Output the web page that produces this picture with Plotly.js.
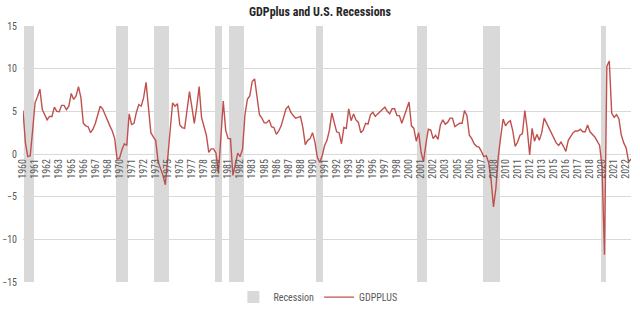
<!DOCTYPE html>
<html><head><meta charset="utf-8">
<script src="https://cdn.plot.ly/plotly-3.0.1.min.js"></script>
<style>html,body{margin:0;padding:0;background:#fff}#chart{width:640px;height:321px}</style>
</head><body><div id="chart"></div>
<script>
// GDPplus, quarterly, 1960Q1 .. 2023Q1 (annualized %)
const gdpplus = [
  5.1, 1.3, -0.3, -0.2, 2.8, 6.0, 6.7, 7.6, 5.2, 4.6,
  4.0, 4.4, 4.4, 5.5, 5.0, 4.95, 5.7, 5.7, 5.2, 5.6,
  7.1, 6.4, 6.8, 7.9, 6.6, 3.6, 3.3, 3.2, 2.5, 2.9,
  3.6, 4.6, 5.6, 5.3, 4.6, 3.8, 3.3, 2.7, 1.8, -0.6,
  -0.5, 0.5, 1.2, 1.0, 4.7, 3.45, 3.6, 4.9, 5.8, 5.6,
  6.6, 8.4, 5.5, 2.5, 2.0, 1.6, -0.9, -1.7, -2.5, -3.6,
  -0.5, 3.2, 6.0, 5.6, 5.9, 3.4, 3.1, 3.0, 5.1, 7.3,
  5.5, 3.6, 5.5, 7.9, 4.3, 3.3, 2.2, 0.2, 0.6, 0.6,
  0.1, -2.3, 1.4, 6.2, 2.8, 1.8, 1.8, -2.5, -1.2, 0.1,
  -0.3, 0.6, 4.6, 6.4, 6.8, 8.5, 8.8, 6.6, 4.6, 4.2,
  3.65, 3.65, 4.0, 3.2, 3.1, 2.3, 2.7, 3.3, 4.2, 5.3,
  5.6, 4.9, 4.5, 4.2, 4.3, 4.4, 3.1, 1.1, 1.6, 1.8,
  2.5, 1.4, -0.4, -1.0, -0.2, 1.0, 1.6, 2.8, 4.8, 3.5,
  2.6, 2.5, 1.2, 3.1, 3.0, 5.3, 3.9, 4.7, 4.0, 3.7,
  2.5, 2.8, 3.6, 3.5, 4.6, 4.9, 4.4, 4.7, 5.0, 5.2,
  5.5, 5.0, 4.7, 5.3, 5.3, 4.5, 4.5, 3.6, 4.4, 5.2,
  6.1, 3.3, 3.0, 1.5, 2.5, 0.2, -0.9, 1.2, 2.9, 2.8,
  1.8, 2.2, 1.7, 3.4, 4.0, 3.5, 3.7, 4.2, 4.2, 3.2,
  3.4, 3.6, 3.6, 5.1, 4.5, 2.2, 1.8, 1.2, 0.9, 0.8,
  0.3, -0.3, -0.2, -1.0, -3.0, -6.2, -4.0, -0.3, 2.0, 4.1,
  3.3, 3.7, 3.9, 2.7, 0.9, 1.4, 2.2, 2.4, 5.1, 2.9,
  -0.1, 3.0, 1.5, 2.3, 1.6, 2.5, 4.2, 3.6, 3.0, 2.3,
  1.7, 1.3, 1.0, 1.4, 0.9, 0.3, 1.6, 2.0, 2.5, 2.7,
  2.7, 2.9, 2.6, 2.6, 3.4, 2.6, 2.3, 2.0, 1.5, 1.0,
  -1.5, -11.8, 10.3, 10.9, 4.8, 4.3, 4.6, 4.1, 2.2, 1.3,
  0.7, -0.9, -0.6
];
const startYear = 1960;
const quarters = gdpplus.map((_, i) => (startYear + Math.floor(i / 4)) + 'Q' + (i % 4 + 1));

// NBER recessions (quarters)
const recessionStart = ['1960Q2','1969Q4','1973Q4','1980Q1','1981Q3','1990Q3','2001Q1','2007Q4','2020Q1'];
const recessionEnd   = ['1961Q1','1970Q4','1975Q1','1980Q3','1982Q4','1991Q1','2001Q4','2009Q2','2020Q2'];
const recession = quarters.map(q => recessionStart.some((s, k) => q >= s && q <= recessionEnd[k]) ? 1 : 0);

// category axis labels (every 5th quarter)
const tickLabels = ['1960','1961','1962','1963','1965','1966','1967','1968','1970','1971','1972','1973',
  '1975','1976','1977','1978','1980','1981','1982','1983','1985','1986','1987','1988','1990','1991',
  '1992','1993','1995','1996','1997','1998','2000','2001','2002','2003','2005','2006','2007','2008',
  '2010','2011','2012','2013','2015','2016','2017','2018','2020','2021','2022'];
const tickQuarters = quarters.filter((_, i) => i % 5 === 0).slice(0, tickLabels.length);

const yMin = -15, yMax = 15;
const FONT = 'Liberation Sans Narrow, Arial Narrow, Roboto Condensed, DejaVu Sans Condensed, sans-serif';

const traces = [
  {
    type: 'bar', name: 'Recession',
    x: quarters,
    y: recession.map(r => r ? (yMax - yMin) : null),
    base: yMin,
    width: 1,
    marker: {color: '#d9d9d9', line: {width: 0}},
    hoverinfo: 'skip'
  },
  {
    type: 'scatter', mode: 'lines', name: 'GDPPLUS',
    x: quarters, y: gdpplus,
    line: {color: '#c0504d', width: 1.4}
  }
];

const layout = {
  width: 640, height: 321,
  margin: {l: 23, r: 9, t: 26, b: 29, pad: 0},
  paper_bgcolor: '#ffffff', plot_bgcolor: '#ffffff',
  font: {family: FONT, color: '#595959', size: 10},
  title: {
    text: '<b>GDPplus and U.S. Recessions</b>',
    font: {family: FONT, size: 12, color: '#262626'},
    x: 0.5, xref: 'container', xanchor: 'center',
    y: 0.962, yref: 'container', yanchor: 'middle'
  },
  bargap: 0,
  showlegend: true,
  legend: {
    orientation: 'h', x: 0.485, xanchor: 'center', y: -0.059, yanchor: 'middle',
    font: {family: FONT, size: 10, color: '#595959'},
    bgcolor: 'rgba(0,0,0,0)', itemwidth: 30
  },
  xaxis: {
    type: 'category',
    range: [0, quarters.length - 1],
    anchor: 'free', position: 0.5,
    showgrid: false, showline: false, zeroline: false,
    ticks: '',
    tickmode: 'array', tickvals: tickQuarters, ticktext: tickLabels,
    tickangle: -90,
    ticklabelstandoff: 2,
    tickfont: {family: FONT, size: 10, color: '#595959'},
    automargin: false, fixedrange: true
  },
  yaxis: {
    range: [yMin, yMax], tick0: 0, dtick: 5,
    showgrid: true, gridcolor: '#d9d9d9', gridwidth: 1,
    zeroline: false, showline: false, ticks: '',
    tickfont: {family: FONT, size: 10, color: '#595959'},
    ticklabelstandoff: 5,
    automargin: false, fixedrange: true
  }
};

Plotly.newPlot('chart', traces, layout, {displayModeBar: false, staticPlot: true});
</script>
</body></html>
